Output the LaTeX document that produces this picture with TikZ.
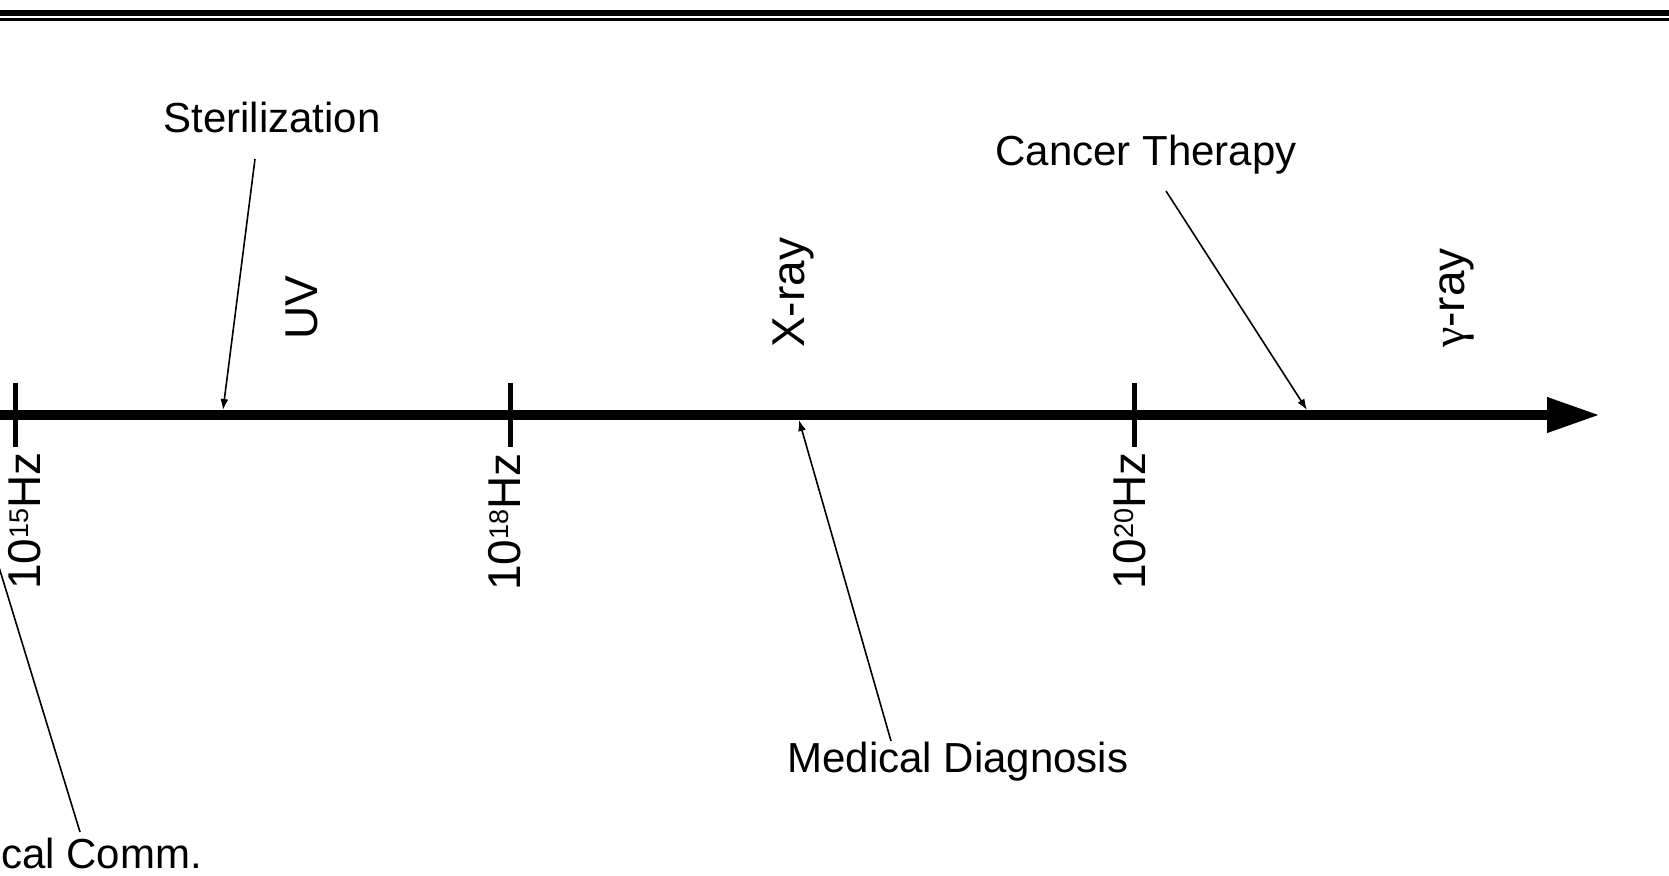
\documentclass[tikz,border=0pt]{standalone}
\usepackage{fontspec}
\setmainfont{Liberation Sans}
\newfontfamily\grkfont{Liberation Serif}
\usetikzlibrary{arrows.meta}
\newcommand\myexp[1]{\raisebox{12pt}{\fontsize{27}{27}\selectfont #1}}
\begin{document}
\begin{tikzpicture}[x=1pt,y=-1pt,
  lbl/.style={font=\fontsize{42}{50}\selectfont, inner sep=0pt},
  axlbl/.style={font=\fontsize{46}{55}\selectfont, inner sep=0pt, rotate=90},
  callout/.style={line width=1.6pt, -{Latex[length=11pt 0,width=8pt 0]}},
  tickmark/.style={line width=5pt},
  rule/.style={line width=#1},
]
\useasboundingbox (0,0) rectangle (1669,875);
\fill[white] (0,0) rectangle (1669,875);
% top double rule
\coordinate (tl1) at (-10,13);   \coordinate (tr1) at (1680,13);
\coordinate (tl2) at (-10,19.5); \coordinate (tr2) at (1680,19.5);
\draw[rule=6pt] (tl1) -- (tr1);
\draw[rule=2.4pt] (tl2) -- (tr2);
% axis
\coordinate (a0) at (-20,415);
\coordinate (a1) at (1600,415);
\draw[line width=10pt, -{Triangle[length=53pt 0,width=33pt 0]}] (a0) -- (a1);
% ticks
\coordinate (t15a) at (15.5,383);  \coordinate (t15b) at (15.5,447);
\coordinate (t18a) at (510.5,383); \coordinate (t18b) at (510.5,447);
\coordinate (t20a) at (1134,383);  \coordinate (t20b) at (1134,447);
\draw[tickmark] (t15a) -- (t15b);
\draw[tickmark] (t18a) -- (t18b);
\draw[tickmark] (t20a) -- (t20b);
% tick labels
\node[axlbl, anchor=base east] (f15) at (40,452) {10\myexp{15}Hz};
\node[axlbl, anchor=base east] (f18) at (520,453) {10\myexp{18}Hz};
\node[axlbl, anchor=base east] (f20) at (1145,452) {10\myexp{20}Hz};
% band labels
\node[axlbl, anchor=base west] (uv) at (317,340) {UV};
\node[axlbl, anchor=base west] (xr) at (804,348) {X-ray};
\node[axlbl, anchor=base west] (gr) at (1464,348) {{\grkfont γ}-ray};
% application labels
\node[lbl, anchor=base] (ster) at (272,132) {Sterilization};
\node[lbl, anchor=base] (canc) at (1146,165) {Cancer Therapy};
\node[lbl, anchor=base] (med) at (958,772) {Medical Diagnosis};
\node[lbl, anchor=base east] (opt) at (202,868) {Optical Comm.};
% callout ends
\coordinate (sterA) at (255,159);  \coordinate (sterB) at (223,410);
\coordinate (cancA) at (1166,191); \coordinate (cancB) at (1307,410);
\coordinate (medA) at (891,741);   \coordinate (medB) at (799,420);
\coordinate (optA) at (80,832);    \coordinate (optB) at (-46,420);
\draw[callout] (sterA) -- (sterB);
\draw[callout] (cancA) -- (cancB);
\draw[callout] (medA) -- (medB);
\draw[callout] (optA) -- (optB);
\end{tikzpicture}
\end{document}
